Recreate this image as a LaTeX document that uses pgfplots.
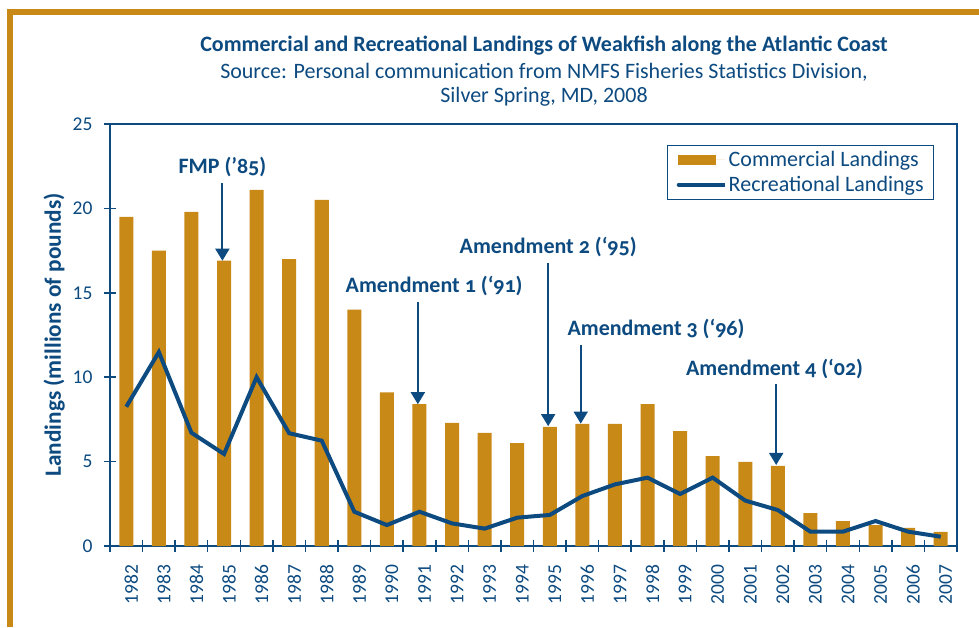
\documentclass[border=0pt]{standalone}
\usepackage{fontspec}
\setmainfont{Carlito}
\newfontfamily\annfont[Numbers=OldStyle]{Carlito}
\usepackage{pgfplots}
\pgfplotsset{compat=1.18}
\usetikzlibrary{arrows.meta}
\definecolor{navy}{RGB}{12,74,128}
\definecolor{ochre}{RGB}{200,137,22}

\begin{document}
\begin{tikzpicture}
% picture frame: pixel (px,py) of the reference -> (px-110, 546-py) in pt
\useasboundingbox (-110pt,-81pt) rectangle (869pt,546pt);
\begin{axis}[
    at={(0pt,0pt)}, anchor=south west,
    scale only axis, width=847pt, height=422pt,
    xmin=-0.5, xmax=25.5, ymin=0, ymax=25,
    clip=false,
    axis line style={navy, line width=1.5pt},
    tick pos=left,
    ytick={0,5,10,15,20,25},
    xtick={0,...,25},
    xticklabels={1982,1983,1984,1985,1986,1987,1988,1989,1990,1991,1992,1993,1994,1995,1996,1997,1998,1999,2000,2001,2002,2003,2004,2005,2006,2007},
    minor xtick={-0.5,0.5,...,25.5},
    major x tick style={draw=none},
    tick style={navy, line width=1.5pt},
    major tick length=12pt, minor tick length=12pt, tick align=center,
    ticklabel style={navy, font=\fontsize{19.5}{22}\selectfont},
    xticklabel style={xshift=5pt, rotate=90, anchor=east},
    xticklabel shift=9pt, yticklabel shift=8pt,
    /pgf/number format/assume math mode=true,
    ylabel={Landings (millions of pounds)},
    every axis y label/.style={at={(axis description cs:-0.066,0.5)}, rotate=90, anchor=center},
    ylabel style={navy, font=\bfseries\fontsize{23.3}{27}\selectfont},
    legend style={at={(axis description cs:0.973,0.95)}, anchor=north east,
        draw=navy, line width=1pt, text=navy, font=\fontsize{22}{25}\selectfont,
        inner xsep=8pt, inner ysep=5pt, row sep=6pt,
        nodes={inner xsep=2pt, inner ysep=1pt}},
    legend cell align=left,
]
\addplot[ybar, bar width=0.43, fill=ochre, draw=none,
    legend image code/.code={\fill[ochre] (0pt,-5pt) rectangle (38pt,5pt);
      \path (0pt,0pt) -- (47pt,0pt);}]
  coordinates {(0,19.5) (1,17.5) (2,19.8) (3,16.9) (4,21.1) (5,17.0) (6,20.5)
    (7,14.0) (8,9.1) (9,8.4) (10,7.3) (11,6.7) (12,6.1) (13,7.05) (14,7.23)
    (15,7.23) (16,8.41) (17,6.81) (18,5.33) (19,4.98) (20,4.74) (21,1.95)
    (22,1.48) (23,1.24) (24,1.07) (25,0.83)};
\addlegendentry{Commercial Landings}
\addplot[navy, line width=4pt,
    legend image code/.code={\draw[navy, line width=4pt, line cap=round] (1pt,0pt) -- (37pt,0pt);
      \path (0pt,0pt) -- (47pt,0pt);}]
  coordinates {(0,8.25) (1,11.49) (2,6.71) (3,5.45) (4,10.0) (5,6.68) (6,6.24)
    (7,2.03) (8,1.24) (9,2.03) (10,1.34) (11,1.03) (12,1.68) (13,1.84) (14,2.96)
    (15,3.65) (16,4.05) (17,3.08) (18,4.05) (19,2.69) (20,2.13) (21,0.85)
    (22,0.85) (23,1.48) (24,0.85) (25,0.55)};
\addlegendentry{Recreational Landings}
\begin{scope}[navy, line width=1.8pt]
\draw[-{Triangle[width=14pt,length=12pt]}] (axis cs:2.95,21.5) -- (axis cs:2.95,16.9);
\draw[-{Triangle[width=14pt,length=12pt]}] (axis cs:8.95,14.45) -- (axis cs:8.95,8.4);
\draw[-{Triangle[width=14pt,length=12pt]}] (axis cs:12.95,16.77) -- (axis cs:12.95,7.1);
\draw[-{Triangle[width=14pt,length=12pt]}] (axis cs:13.95,11.9) -- (axis cs:13.95,7.25);
\draw[-{Triangle[width=14pt,length=12pt]}] (axis cs:19.95,9.6) -- (axis cs:19.95,4.8);
\end{scope}
\begin{scope}[every node/.style={navy, font=\annfont\bfseries\fontsize{22}{25}\selectfont}]
\node at (axis cs:2.95,22.45) {FMP (’85)};
\node at (axis cs:9.45,15.4) {Amendment 1 (‘91)};
\node at (axis cs:12.95,17.7) {Amendment 2 (‘95)};
\node at (axis cs:16.26,12.86) {Amendment 3 (‘96)};
\node at (axis cs:19.9,10.49) {Amendment 4 (‘02)};
\end{scope}
\end{axis}
\draw[ochre, line width=5.5pt] (-100pt,-81pt) -- (-100pt,534pt) -- (869pt,534pt);
\node[navy, font=\bfseries\fontsize{22}{26}\selectfont] at (434pt,500pt) {Commercial and Recreational Landings of Weakfish along the Atlantic Coast};
\node[navy, font=\fontsize{22}{26}\selectfont] at (434pt,474pt) {Source: Personal communication from NMFS Fisheries Statistics Division,};
\node[navy, font=\fontsize{22}{26}\selectfont] at (434pt,449pt) {Silver Spring, MD, 2008};
\end{tikzpicture}
\end{document}
